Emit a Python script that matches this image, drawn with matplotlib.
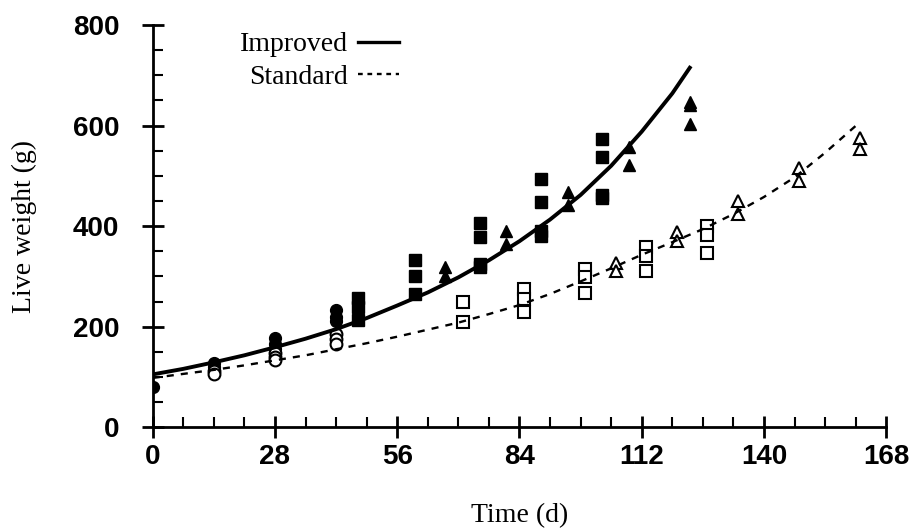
import numpy as np
import matplotlib.pyplot as plt
from matplotlib.ticker import MultipleLocator
from matplotlib.lines import Line2D

# fitted growth curves
improved_curve_day = [0, 7, 14, 21, 28, 35, 42, 49, 56, 63, 70, 77, 84, 91, 98, 105, 112, 119, 123]
improved_curve_wt = [105, 116, 129, 143, 159, 176, 195, 217, 242, 268, 298, 332, 370, 413, 462, 520, 588, 664, 715]

standard_curve_day = [0, 7, 14, 21, 28, 35, 42, 49, 56, 63, 70, 77, 84, 91, 98, 105, 112, 119, 126, 133, 140, 147, 154, 162]
standard_curve_wt = [98, 106, 114, 123, 133, 143, 155, 167, 180, 194, 208, 225, 243, 265, 290, 316, 343, 368, 394, 424, 458, 497, 546, 607]

# improved line, observed weights (filled markers)
imp_circ_day = [0, 14, 14, 28, 28, 28, 42, 42, 42]
imp_circ_wt = [80, 127, 120, 177, 165, 155, 233, 220, 212]
imp_sq_day = [47, 47, 47, 60, 60, 60, 75, 75, 75, 75, 89, 89, 89, 89, 103, 103, 103, 103]
imp_sq_wt = [256, 240, 214, 333, 300, 264, 406, 378, 325, 318, 493, 448, 390, 380, 573, 537, 462, 455]
imp_tri_day = [67, 67, 81, 81, 95, 95, 109, 109, 123, 123, 123]
imp_tri_wt = [318, 300, 390, 365, 468, 442, 557, 522, 647, 640, 603]

# standard line, observed weights (open markers)
std_circ_day = [14, 14, 28, 28, 28, 42, 42, 42]
std_circ_wt = [112, 105, 148, 140, 133, 185, 175, 165]
std_sq_day = [71, 71, 85, 85, 85, 99, 99, 99, 113, 113, 113, 127, 127, 127]
std_sq_wt = [250, 210, 275, 255, 230, 315, 298, 267, 359, 340, 310, 400, 383, 347]
std_tri_day = [106, 106, 120, 120, 134, 134, 148, 148, 162, 162]
std_tri_wt = [327, 310, 388, 370, 450, 425, 515, 490, 575, 553]


def main():
    fig = plt.figure(figsize=(9.17, 5.32), dpi=100)
    ax = fig.add_axes([0.1665, 0.197, 0.800, 0.756])

    ms = 8.5
    ax.plot(imp_circ_day, imp_circ_wt, "o", color="black", ms=ms, zorder=3)
    ax.plot(imp_sq_day, imp_sq_wt, "s", color="black", ms=ms, zorder=3)
    ax.plot(imp_tri_day, imp_tri_wt, "^", color="black", ms=ms, zorder=3)
    ax.plot(std_circ_day, std_circ_wt, "o", mfc="white", mec="black", mew=1.5, ms=ms, zorder=3)
    ax.plot(std_sq_day, std_sq_wt, "s", mfc="white", mec="black", mew=1.5, ms=ms, zorder=3)
    ax.plot(std_tri_day, std_tri_wt, "^", mfc="white", mec="black", mew=1.5, ms=ms, zorder=3)

    ax.plot(improved_curve_day, improved_curve_wt, "-", color="black", lw=2.8,
            solid_joinstyle="round", zorder=4)
    ax.plot(standard_curve_day, standard_curve_wt, color="black", lw=1.7,
            dashes=(3, 3), zorder=4)

    ax.set_xlim(0, 168)
    ax.set_ylim(0, 800)
    ax.spines["top"].set_visible(False)
    ax.spines["right"].set_visible(False)
    for s in ("left", "bottom"):
        ax.spines[s].set_linewidth(2.0)

    ax.xaxis.set_major_locator(MultipleLocator(28))
    ax.xaxis.set_minor_locator(MultipleLocator(7))
    ax.yaxis.set_major_locator(MultipleLocator(200))
    ax.yaxis.set_minor_locator(MultipleLocator(50))
    ax.tick_params(which="major", direction="inout", length=16, width=2.0)
    ax.tick_params(axis="x", which="major", pad=4)
    ax.tick_params(axis="y", which="major", pad=16)
    ax.tick_params(which="minor", direction="in", length=7, width=1.5)

    for lab in ax.get_xticklabels() + ax.get_yticklabels():
        lab.set_fontfamily("Liberation Sans")
        lab.set_fontweight("bold")
        lab.set_fontsize(20)

    serif = "Liberation Serif"
    ax.set_xlabel("Time (d)", fontfamily=serif, fontsize=20, labelpad=24)
    ax.set_ylabel("Live weight (g)", fontfamily=serif, fontsize=20, labelpad=26)

    handles = [
        Line2D([], [], color="black", lw=2.4),
        Line2D([], [], color="black", lw=1.7, dashes=(2, 2)),
    ]
    ax.legend(handles, ["Improved", "Standard"], loc="upper left",
              bbox_to_anchor=(0.085, 1.045), frameon=False, markerfirst=False,
              handlelength=1.5, handletextpad=0.35, labelspacing=0.25,
              prop={"family": serif, "size": 20})

    fig.savefig("out.png", dpi=100)


if __name__ == "__main__":
    main()
